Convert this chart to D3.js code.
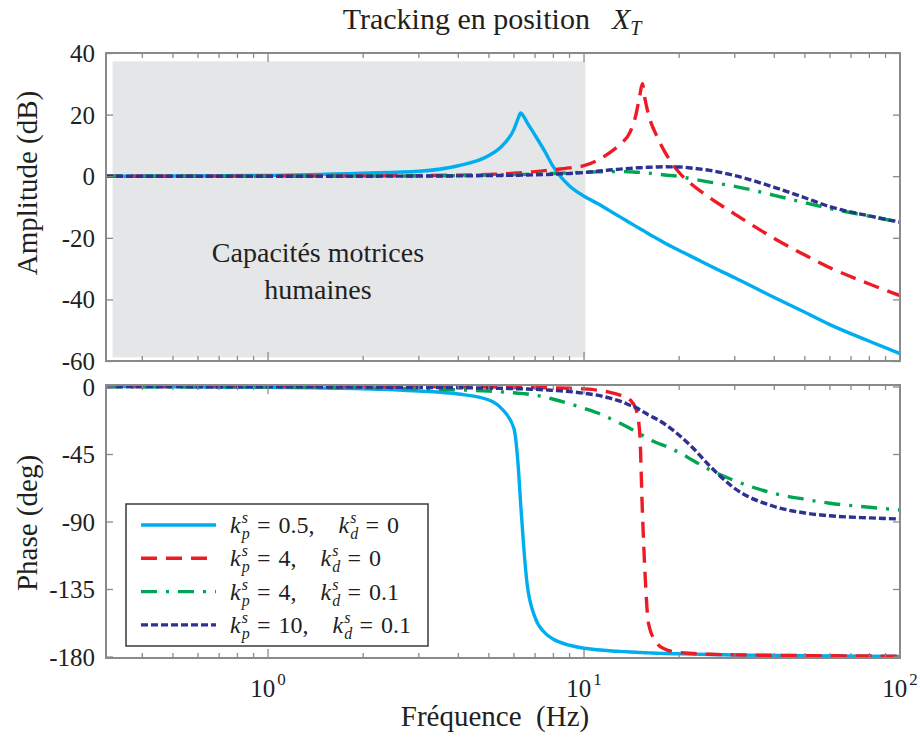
<!DOCTYPE html>
<html>
<head>
<meta charset="utf-8">
<script src="https://cdn.jsdelivr.net/npm/d3@7"></script>
<style>
  body { margin: 0; background: #fff; }
  svg { display: block; }
  text { font-family: "Liberation Serif", "Times New Roman", serif; fill: #231f20; }
</style>
</head>
<body>
<svg id="chart" width="920" height="740"></svg>
<script>
// frequency grid (Hz) shared by all curves
const freq = [0.307, 0.5, 1, 2, 3, 4, 5, 5.5, 6, 6.2, 6.3, 6.45, 6.6, 7, 7.5, 8, 9, 10, 11, 12,
  13, 14, 14.6, 15, 15.3, 15.6, 16, 17, 18, 20, 22, 25, 30, 40, 50, 60, 80, 100];

// amplitude (dB)
const ampBlue = [0, 0.05, 0.25, 1.0, 1.6, 3.4, 6.7, 9.8, 15.2, 19, 20.5, 19.3, 17.5, 13.3, 8.2, 3.0, -3.2, -6.5, -8.8, -11.1,
  -13.2, -15.2, -16.3, -17, -17.5, -18, -18.7, -20.2, -21.7, -24.1, -26.2, -29.1, -33.0, -39.4, -44.2, -48.2, -53.6, -57.6];
const ampRed = [0, 0, 0.05, 0.1, 0.2, 0.35, 0.6, 0.75, 0.95, 1.05, 1.1, 1.2, 1.3, 1.5, 1.8, 2.1, 2.7, 3.4, 5.1, 7.5,
  10.3, 14.4, 20, 26, 30, 25, 20, 13, 8, 1.2, -2.8, -7, -12.3, -20.2, -25.6, -29.7, -35.0, -38.8];
const ampGreen = [0, 0, 0, 0.05, 0.1, 0.2, 0.35, 0.4, 0.5, 0.55, 0.55, 0.6, 0.6, 0.7, 0.8, 0.9, 1.1, 1.3, 1.4, 1.5,
  1.5, 1.4, 1.3, 1.25, 1.2, 1.1, 1.0, 0.7, 0.4, -0.1, -0.9, -1.9, -3.3, -6.2, -8.6, -10.5, -13, -15];
const ampNavy = [0, 0, 0, 0, 0.05, 0.1, 0.2, 0.25, 0.3, 0.3, 0.35, 0.35, 0.4, 0.45, 0.55, 0.65, 0.9, 1.2, 1.6, 2.0,
  2.3, 2.55, 2.7, 2.75, 2.8, 2.85, 2.9, 3.0, 3.05, 3.0, 2.6, 1.9, 0.2, -3.6, -7.0, -9.9, -12.9, -14.9];

// phase (deg)
const phaseBlue = [-0.1, -0.2, -0.6, -1.5, -3, -5, -9, -15, -28, -55, -78, -108, -131, -154, -164, -168.5, -172.5, -174.5, -175.5, -176.2,
  -176.6, -177, -177.2, -177.3, -177.4, -177.5, -177.6, -177.8, -178, -178.2, -178.4, -178.7, -179, -179.3, -179.5, -179.6, -179.8, -179.9];
const phaseRed = [0, 0, 0, -0.1, -0.2, -0.3, -0.4, -0.45, -0.5, -0.55, -0.55, -0.6, -0.6, -0.7, -0.8, -0.9, -1.2, -1.6, -2.4, -3.8,
  -5.7, -9, -15, -30, -83, -125, -158, -171, -175, -177.3, -178, -178.5, -178.9, -179.2, -179.4, -179.5, -179.7, -179.8];
const phaseGreen = [-0.1, -0.2, -0.4, -0.9, -1.5, -2.2, -3.1, -3.6, -4.2, -4.5, -4.6, -4.8, -5, -5.8, -7, -8.5, -11.5, -14.5, -17.5, -21,
  -24.5, -28, -30, -31.5, -32.5, -33.5, -35, -37.5, -39.5, -44, -49, -55.5, -62.8, -71.3, -75.2, -77.8, -80.5, -82.3];
const phaseNavy = [-0.05, -0.1, -0.2, -0.4, -0.6, -0.8, -1.1, -1.2, -1.4, -1.5, -1.5, -1.6, -1.7, -1.9, -2.2, -2.6, -3.4, -4.5, -5.8, -7.6,
  -9.8, -12.5, -14, -15.5, -16.5, -17.5, -19, -21.8, -25, -32.5, -40.5, -53, -68, -80, -84.3, -86.2, -87.6, -88.3];

const kpValues = ["0.5", "4", "4", "10"];
const kdValues = ["0", "0", "0.1", "0.1"];
const ampTicks = [40, 20, 0, -20, -40, -60];
const phaseTicks = [0, -45, -90, -135, -180];
const decadeTicks = [1, 10, 100];
// shaded "human motor capacity" zone
const shadeFreq = [0.322, 10.1];
const shadeAmp = [-58.8, 37.3];

const series = [
  { amp: ampBlue, phase: phaseBlue, color: "#00aeef", dash: null },
  { amp: ampRed, phase: phaseRed, color: "#ed1c24", dash: "16,9" },
  { amp: ampGreen, phase: phaseGreen, color: "#00a651", dash: "16,9,3,9" },
  { amp: ampNavy, phase: phaseNavy, color: "#2e3192", dash: "7,3" }
];

const left = 106, right = 900;
const frameColor = "#8a8a8a";
const svg = d3.select("#chart");

const x = d3.scaleLog().domain([0.307, 100]).range([left, right]);
const yAmp = d3.scaleLinear().domain([-60, 40]).range([361, 53]);
const yPhase = d3.scaleLinear().domain([-181, 1]).range([658, 385]);

// title
const title = svg.append("text")
  .attr("x", 492).attr("y", 29)
  .attr("text-anchor", "middle")
  .style("font-size", "30px");
title.append("tspan").text("Tracking en position");
title.append("tspan").attr("dx", 22).style("font-style", "italic").text("X");
title.append("tspan").attr("dy", 6).style("font-style", "italic").style("font-size", "20px").text("T");

// shade
svg.append("rect")
  .attr("x", x(shadeFreq[0]))
  .attr("y", yAmp(shadeAmp[1]))
  .attr("width", x(shadeFreq[1]) - x(shadeFreq[0]))
  .attr("height", yAmp(shadeAmp[0]) - yAmp(shadeAmp[1]))
  .attr("fill", "#e5e6e8");

svg.append("text").attr("x", 318).attr("y", 262).attr("text-anchor", "middle")
  .style("font-size", "28px").text("Capacités motrices");
svg.append("text").attr("x", 318).attr("y", 299).attr("text-anchor", "middle")
  .style("font-size", "28px").text("humaines");

const drawCurves = (y, key) => {
  const line = d3.line()
    .x((d, i) => x(freq[i]))
    .y((d) => y(d))
    .curve(d3.curveMonotoneX);
  series.forEach((s) => {
    svg.append("path")
      .attr("d", line(s[key]))
      .attr("fill", "none")
      .attr("stroke", s.color)
      .attr("stroke-width", 3.4)
      .attr("stroke-dasharray", s.dash);
  });
};

const drawFrame = (y, ticks) => {
  const [yb, yt] = y.range();
  const g = svg.append("g");
  g.append("rect")
    .attr("x", left).attr("y", yt)
    .attr("width", right - left).attr("height", yb - yt)
    .attr("fill", "none").attr("stroke", frameColor).attr("stroke-width", 2);

  const la = g.append("g").attr("transform", `translate(${left},0)`)
    .call(d3.axisLeft(y).tickValues(ticks).tickSizeInner(-7).tickSizeOuter(0).tickPadding(11)
      .tickFormat((d) => String(d)));
  const ra = g.append("g").attr("transform", `translate(${right},0)`)
    .call(d3.axisRight(y).tickValues(ticks).tickSizeInner(-7).tickSizeOuter(0).tickFormat(""));
  [la, ra].forEach((a) => {
    a.select(".domain").remove();
    a.selectAll("line").attr("stroke", frameColor).attr("stroke-width", 1.3);
  });
  la.attr("font-size", 25);
  la.selectAll("text").attr("fill", "#231f20").attr("dy", "0.34em");

  // log ticks on top and bottom edges
  const xt = x.ticks().filter((v) => v > x.domain()[0]);
  [yt, yb].forEach((edge, k) => {
    g.selectAll(null)
      .data(xt)
      .enter()
      .append("line")
      .attr("x1", (v) => x(v)).attr("x2", (v) => x(v))
      .attr("y1", edge)
      .attr("y2", (v) => {
        const len = decadeTicks.includes(v) ? 9 : 5;
        return k === 0 ? edge + len : edge - len;
      })
      .attr("stroke", frameColor).attr("stroke-width", 1.3);
  });
};

drawCurves(yAmp, "amp");
drawCurves(yPhase, "phase");
drawFrame(yAmp, ampTicks);
drawFrame(yPhase, phaseTicks);

// x tick labels 10^n
decadeTicks.forEach((v) => {
  const t = svg.append("text")
    .attr("x", x(v)).attr("y", 697)
    .attr("text-anchor", "middle")
    .style("font-size", "25px");
  t.append("tspan").text("10");
  t.append("tspan").attr("dx", 2).attr("dy", -12).style("font-size", "17px").text(Math.round(Math.log10(v)));
});

// axis titles
svg.append("text").attr("x", 495).attr("y", 726).attr("text-anchor", "middle")
  .style("font-size", "29px").style("white-space", "pre").text("Fréquence  (Hz)");
svg.append("text").attr("transform", "translate(37,183) rotate(-90)").attr("text-anchor", "middle")
  .style("font-size", "29px").text("Amplitude (dB)");
svg.append("text").attr("transform", "translate(37,523) rotate(-90)").attr("text-anchor", "middle")
  .style("font-size", "29px").text("Phase (deg)");

// legend
const legend = svg.append("g");
legend.append("rect")
  .attr("x", 126).attr("y", 504).attr("width", 302).attr("height", 142)
  .attr("fill", "#fff").attr("stroke", "#3a3a3a").attr("stroke-width", 1.5);

const kTerm = (row, sub, x0, y0) => {
  const k = row.append("text").attr("x", x0).attr("y", y0)
    .style("font-style", "italic").style("font-size", "24px").text("k");
  const w = k.node().getComputedTextLength();
  row.append("text").attr("x", x0 + w + 1).attr("y", y0 - 10)
    .style("font-style", "italic").style("font-size", "16px").text("s");
  row.append("text").attr("x", x0 + w + 1).attr("y", y0 + 6)
    .style("font-style", "italic").style("font-size", "16px").text(sub);
  return x0 + 27;
};
const plain = (row, str, x0, y0) => {
  const t = row.append("text").attr("x", x0).attr("y", y0)
    .style("font-size", "24px").text(str);
  return x0 + t.node().getComputedTextLength();
};

series.forEach((s, i) => {
  const yc = 525 + i * 33.3;
  const row = legend.append("g");
  row.append("line")
    .attr("x1", 141).attr("x2", 216).attr("y1", yc).attr("y2", yc)
    .attr("stroke", s.color).attr("stroke-width", 3.4)
    .attr("stroke-dasharray", s.dash);
  const yb = yc + 8;
  let cx = kTerm(row, "p", 230, yb);
  cx = plain(row, "=", cx, yb) + 8;
  cx = plain(row, kpValues[i] + ",", cx, yb) + 24;
  cx = kTerm(row, "d", cx, yb);
  cx = plain(row, "=", cx, yb) + 8;
  plain(row, kdValues[i], cx, yb);
});
</script>
</body>
</html>
